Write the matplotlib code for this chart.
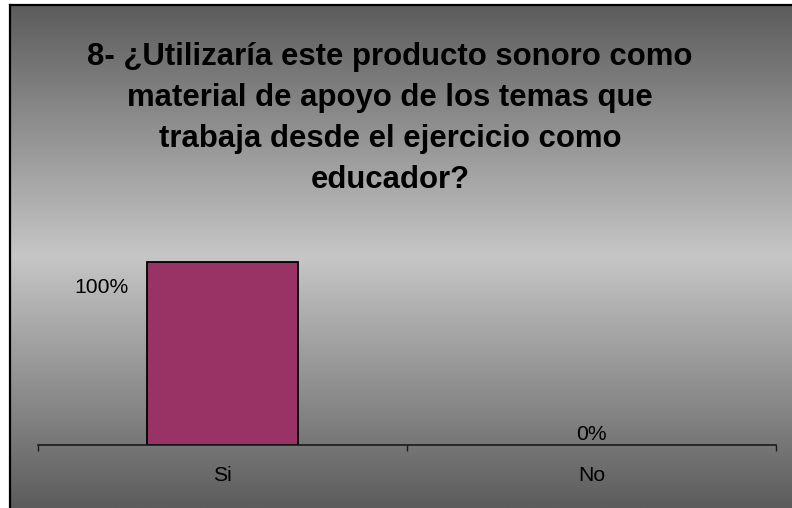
import numpy as np
import matplotlib
matplotlib.use('Agg')
import matplotlib.pyplot as plt

# ── datos
categorias = ['Si', 'No']
porcentajes = [100, 0]
etiquetas = ['100%', '0%']
titulo = ('8- ¿Utilizaría este producto sonoro como\n'
          'material de apoyo de los temas que\n'
          'trabaja desde el ejercicio como\n'
          'educador?')

plt.rcParams['font.family'] = ['Liberation Sans', 'DejaVu Sans']

W, H = 792, 508
fig = plt.figure(figsize=(W / 100, H / 100), dpi=100)
fig.patch.set_facecolor('white')

# ── fondo degradado (oscuro - claro - oscuro)
bg = fig.add_axes([10 / W, 0, (W - 10) / W, (H - 5) / H])
t = np.linspace(0, 1, 400)
g = 1 - np.abs(t - 0.5) * 2          # 0 en bordes, 1 en el centro
tono = (92 + (198 - 92) * g) / 255.0
img = np.repeat(tono[:, None], 2, axis=1)
bg.imshow(np.dstack([img, img, img]), aspect='auto', extent=[0, 1, 0, 1],
          interpolation='bilinear')
bg.set_xlim(0, 1)
bg.set_ylim(0, 1)
bg.set_xticks([])
bg.set_yticks([])
for s in ['right', 'bottom']:
    bg.spines[s].set_visible(False)
for s in ['left', 'top']:
    bg.spines[s].set_linewidth(1.6)
    bg.spines[s].set_color('black')

# ── título
fig.text(390 / W, 1 - 42 / H, titulo, ha='center', va='top',
         fontsize=22.4, fontweight='bold', color='black', linespacing=1.48)

# ── gráfico de barras
ax = fig.add_axes([38 / W, (H - 445) / H, 738 / W, 220 / H])
ax.patch.set_alpha(0)
x = np.arange(len(categorias))
bordes = ['black' if v > 0 else 'none' for v in porcentajes]
bars = ax.bar(x, porcentajes, width=0.407, color='#993366',
              edgecolor=bordes, linewidth=1.3, zorder=3)
ax.set_xlim(-0.5, len(categorias) - 0.5)
ax.set_ylim(0, 120)

for s in ['left', 'right', 'top']:
    ax.spines[s].set_visible(False)
ax.spines['bottom'].set_color('#1a1a1a')
ax.spines['bottom'].set_linewidth(1.2)
ax.spines['bottom'].set_zorder(4)
ax.set_yticks([])

ax.set_xticks(np.arange(-0.5, len(categorias), 1))
ax.set_xticklabels([])
ax.tick_params(axis='x', which='major', direction='out', length=4.5,
               width=1.0, color='#1a1a1a')
ax.set_xticks(x, minor=True)
ax.set_xticklabels(categorias, minor=True, fontsize=15.2)
ax.tick_params(axis='x', which='minor', length=0, pad=15)

# etiquetas de valor
ax.annotate(etiquetas[0], xy=(x[0] - 0.407 / 2, porcentajes[0]),
            xytext=(-19 * 0.72, -26 * 0.72), textcoords='offset points',
            ha='right', va='center', fontsize=15.2)
ax.annotate(etiquetas[1], xy=(x[1], porcentajes[1]),
            xytext=(0, 11 * 0.72), textcoords='offset points',
            ha='center', va='center', fontsize=15.2)

fig.savefig('out.png', dpi=100, facecolor='white')
